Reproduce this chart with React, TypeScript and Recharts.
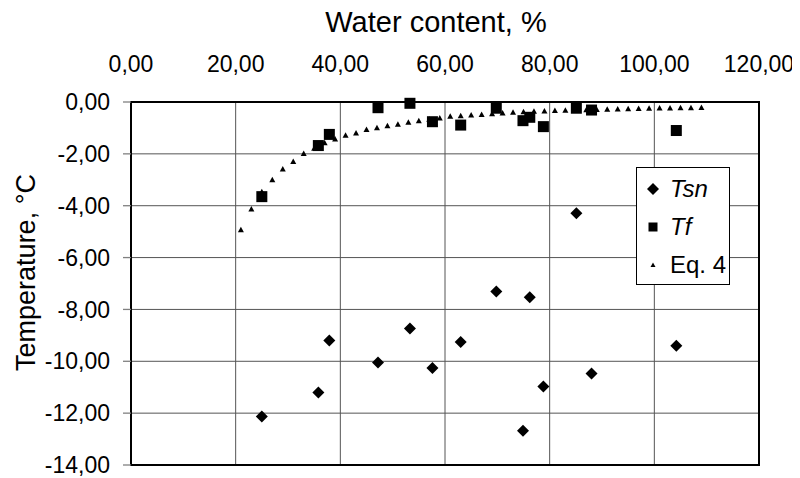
import React from 'react';
import {
  ScatterChart,
  Scatter,
  XAxis,
  YAxis,
  CartesianGrid,
  Legend,
  Label,
  ReferenceArea,
} from 'recharts';

// measured samples (water content, %)
const waterContent = [25.0, 35.8, 37.9, 47.2, 53.3, 57.6, 63.0, 69.8, 74.9, 76.2, 78.8, 85.1, 88.0, 104.2];
const tsnValues = [-12.13, -11.2, -9.2, -10.05, -8.74, -10.26, -9.26, -7.31, -12.68, -7.53, -10.97, -4.29, -10.47, -9.4];
const tfValues = [-3.65, -1.68, -1.25, -0.22, -0.05, -0.76, -0.89, -0.24, -0.72, -0.59, -0.95, -0.24, -0.31, -1.1];

// Eq. 4 curve points
const eqWater = [
  21, 23, 25, 27, 29, 31, 33, 35, 37, 39, 41, 43, 45, 47, 49, 51, 53, 55, 57, 59, 61, 63, 65,
  67, 69, 71, 73, 75, 77, 79, 81, 83, 85, 87, 89, 91, 93, 95, 97, 99, 101, 103, 105, 107, 109,
];
const eqValues = [
  -4.93, -4.13, -3.46, -3.0, -2.58, -2.29, -1.99, -1.78, -1.57, -1.43, -1.28, -1.2, -1.06, -0.99,
  -0.92, -0.86, -0.78, -0.72, -0.67, -0.62, -0.55, -0.53, -0.5, -0.48, -0.45, -0.42, -0.4, -0.38,
  -0.36, -0.35, -0.33, -0.32, -0.31, -0.3, -0.29, -0.28, -0.27, -0.26, -0.25, -0.24, -0.23, -0.23,
  -0.22, -0.22, -0.21,
];

const xTicks = [0, 20, 40, 60, 80, 100, 120];
const yTicks = [-14, -12, -10, -8, -6, -4, -2, 0];

const tsnData = waterContent.map((x, i) => ({ x, y: tsnValues[i] }));
const tfData = waterContent.map((x, i) => ({ x, y: tfValues[i] }));
const eqData = eqWater.map((x, i) => ({ x, y: eqValues[i] }));

const FONT = '"Liberation Sans", Arial, sans-serif';

const fmt = (v: number) => v.toFixed(2).replace('.', ',');

const Diamond = (props: any) => {
  const { cx, cy } = props;
  if (cx == null || cy == null) return null;
  const r = 6;
  return <polygon points={`${cx},${cy - r} ${cx + r},${cy} ${cx},${cy + r} ${cx - r},${cy}`} fill="#000" />;
};

const Square = (props: any) => {
  const { cx, cy } = props;
  if (cx == null || cy == null) return null;
  return <rect x={cx - 5.5} y={cy - 5.5} width={11} height={11} fill="#000" />;
};

const Triangle = (props: any) => {
  const { cx, cy } = props;
  if (cx == null || cy == null) return null;
  return <polygon points={`${cx},${cy - 3} ${cx + 3},${cy + 2.5} ${cx - 3},${cy + 2.5}`} fill="#000" />;
};

const legendItems = [
  { name: 'Tsn', italic: true, icon: <polygon points="9,3 15,9 9,15 3,9" fill="#000" /> },
  { name: 'Tf', italic: true, icon: <rect x={4.5} y={4.5} width={9} height={9} fill="#000" /> },
  { name: 'Eq. 4', italic: false, icon: <polygon points="9,6.5 11.5,11 6.5,11" fill="#000" /> },
];

const LegendBox = () => (
  <div
    style={{
      width: 94,
      height: 118,
      boxSizing: 'border-box',
      border: '1px solid #000',
      background: '#fff',
      fontFamily: FONT,
      fontSize: 24,
      paddingTop: 2,
    }}
  >
    {legendItems.map((it) => (
      <div key={it.name} style={{ display: 'flex', alignItems: 'center', height: 38 }}>
        <svg width={18} height={18} style={{ marginLeft: 7, marginRight: 8 }}>
          {it.icon}
        </svg>
        <span style={{ fontStyle: it.italic ? 'italic' : 'normal' }}>{it.name}</span>
      </div>
    ))}
  </div>
);

const XTitle = (props: any) => {
  const { viewBox } = props;
  const cx = viewBox.x + viewBox.width / 2 - 9;
  return (
    <text x={cx} y={32} textAnchor="middle" fontFamily={FONT} fontSize={29} fill="#000">
      Water content, %
    </text>
  );
};

const YTitle = (props: any) => {
  const { viewBox } = props;
  const cx = 35;
  const cy = viewBox.y + viewBox.height / 2 - 11;
  return (
    <text
      x={cx}
      y={cy}
      textAnchor="middle"
      transform={`rotate(-90, ${cx}, ${cy})`}
      fontFamily={FONT}
      fontSize={27}
      fill="#000"
    >
      Temperature, °C
    </text>
  );
};

export default function App() {
  return (
    <div style={{ margin: '-8px 0 0 -8px', width: 800, height: 478 }}>
      <ScatterChart width={800} height={478} margin={{ top: 0, right: 41, bottom: 13, left: 8 }}>
        <CartesianGrid
          stroke="#555"
          horizontal={{ stroke: '#333', strokeWidth: 1 }}
          vertical={{ stroke: '#808080', strokeWidth: 1.3 }}
        />
        <XAxis
          type="number"
          dataKey="x"
          orientation="top"
          domain={[0, 120]}
          ticks={xTicks}
          tickFormatter={fmt}
          height={102}
          tickLine={false}
          tickSize={0}
          tickMargin={30}
          axisLine={{ stroke: '#000', strokeWidth: 2 }}
          tick={{ fill: '#000', fontSize: 23, fontFamily: FONT }}
          interval={0}
        >
          <Label content={XTitle} />
        </XAxis>
        <YAxis
          type="number"
          dataKey="y"
          domain={[-14, 0]}
          ticks={yTicks}
          tickFormatter={fmt}
          width={123}
          tickSize={8}
          tickMargin={13}
          tickLine={{ stroke: '#808080', strokeWidth: 1.3 }}
          axisLine={{ stroke: '#000', strokeWidth: 2 }}
          tick={{ fill: '#000', fontSize: 23, fontFamily: FONT }}
          interval={0}
        >
          <Label content={YTitle} />
        </YAxis>
        <ReferenceArea x1={0} x2={120} y1={-14} y2={0} fill="none" stroke="#000" strokeWidth={2} />
        <Scatter name="Tsn" data={tsnData} shape={Diamond} isAnimationActive={false} />
        <Scatter name="Tf" data={tfData} shape={Square} isAnimationActive={false} />
        <Scatter name="Eq. 4" data={eqData} shape={Triangle} isAnimationActive={false} />
        <Legend
          layout="vertical"
          align="center"
          verticalAlign="middle"
          content={LegendBox}
          wrapperStyle={{ left: 636, top: 167, width: 94, height: 118 }}
        />
      </ScatterChart>
    </div>
  );
}
